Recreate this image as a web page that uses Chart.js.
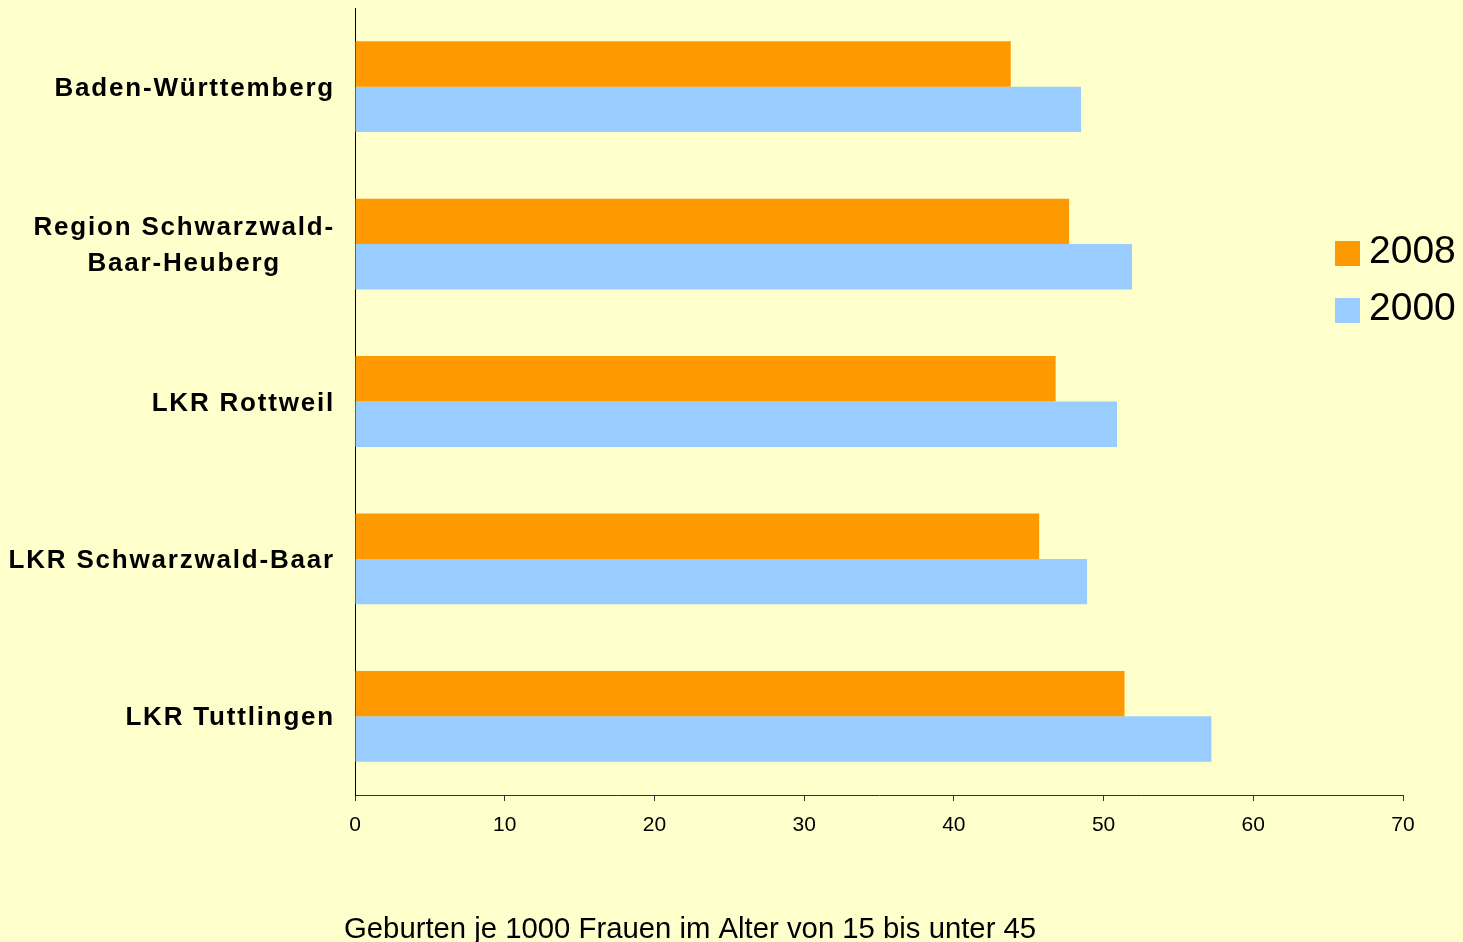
<!DOCTYPE html>
<html>
<head>
<meta charset="utf-8">
<script src="https://cdn.jsdelivr.net/npm/chart.js@4/dist/chart.umd.min.js"></script>
<style>
  html, body { margin: 0; padding: 0; background: #FFFFCC; }
  #wrap { width: 1463px; height: 942px; }
</style>
</head>
<body>
<div id="wrap"><canvas id="c" width="1463" height="942"></canvas></div>
<script>
const categories = [
  'Baden-Württemberg',
  ['Region Schwarzwald-', 'Baar-Heuberg'],
  'LKR Rottweil',
  'LKR Schwarzwald-Baar',
  'LKR Tuttlingen'
];
const seriesNames = ['2008', '2000'];
const values2008 = [43.8, 47.7, 46.8, 45.7, 51.4];
const values2000 = [48.5, 51.9, 50.9, 48.9, 57.2];
const xMin = 0, xMax = 70, xStep = 10;
const axisTitle = 'Geburten je 1000 Frauen im Alter von 15 bis unter 45';

const FONT = '"Liberation Sans", Arial, sans-serif';

const categoryLabels = {
  id: 'categoryLabels',
  afterDraw(chart) {
    const ctx = chart.ctx;
    const y = chart.scales.y;
    ctx.save();
    ctx.fillStyle = '#000';
    ctx.font = 'bold 26px ' + FONT;
    try { ctx.letterSpacing = '1.8px'; } catch (e) {}
    ctx.textBaseline = 'middle';
    const right = 335;
    chart.data.labels.forEach((lab, i) => {
      const cy = y.getPixelForValue(i) + 2;
      const lines = Array.isArray(lab) ? lab : [lab];
      if (lines.length === 1) {
        ctx.textAlign = 'right';
        ctx.fillText(lines[0], right, cy);
      } else {
        const w = Math.max(...lines.map(l => ctx.measureText(l).width));
        const cx = right - w / 2;
        const lh = 36;
        ctx.textAlign = 'center';
        lines.forEach((l, k) => {
          ctx.fillText(l, cx, cy + (k - (lines.length - 1) / 2) * lh);
        });
      }
    });
    ctx.restore();
  }
};

const customLegend = {
  id: 'customLegend',
  afterDraw(chart) {
    const ctx = chart.ctx;
    ctx.save();
    ctx.font = '39px ' + FONT;
    ctx.textBaseline = 'alphabetic';
    ctx.textAlign = 'left';
    chart.data.datasets.forEach((ds, i) => {
      const top = 241 + i * 57;
      ctx.fillStyle = ds.backgroundColor;
      ctx.fillRect(1335, top, 25, 25);
      ctx.fillStyle = '#000';
      ctx.fillText(ds.label, 1369, top + 22);
    });
    ctx.restore();
  }
};

const bottomTitle = {
  id: 'bottomTitle',
  afterDraw(chart) {
    const ctx = chart.ctx;
    ctx.save();
    ctx.font = '29.3px ' + FONT;
    ctx.fillStyle = '#000';
    ctx.textAlign = 'left';
    ctx.textBaseline = 'alphabetic';
    ctx.fillText(axisTitle, 344, 938);
    ctx.restore();
  }
};

new Chart(document.getElementById('c'), {
  type: 'bar',
  data: {
    labels: categories,
    datasets: [
      { label: seriesNames[0], data: values2008, backgroundColor: '#FF9900' },
      { label: seriesNames[1], data: values2000, backgroundColor: '#99CCFF' }
    ]
  },
  options: {
    indexAxis: 'y',
    responsive: false,
    animation: false,
    devicePixelRatio: 1,
    categoryPercentage: 0.577,
    barPercentage: 1.0,
    layout: { padding: { top: 8, right: 60, bottom: 0, left: 0 } },
    plugins: {
      legend: { display: false },
      tooltip: { enabled: false },
      title: { display: false }
    },
    scales: {
      x: {
        min: xMin, max: xMax,
        ticks: {
          stepSize: xStep,
          color: '#000',
          font: { family: FONT, size: 21 },
          padding: 12
        },
        grid: { display: true, drawOnChartArea: false, drawTicks: true, tickLength: 6, color: '#333333' },
        border: { display: true, color: '#333333', width: 1 },
        afterFit(s) { s.height = 147; }
      },
      y: {
        ticks: { display: false },
        grid: { display: false },
        border: { display: true, color: '#000000', width: 1 },
        afterFit(s) { s.width = 355; }
      }
    }
  },
  plugins: [categoryLabels, customLegend, bottomTitle]
});
</script>
</body>
</html>
